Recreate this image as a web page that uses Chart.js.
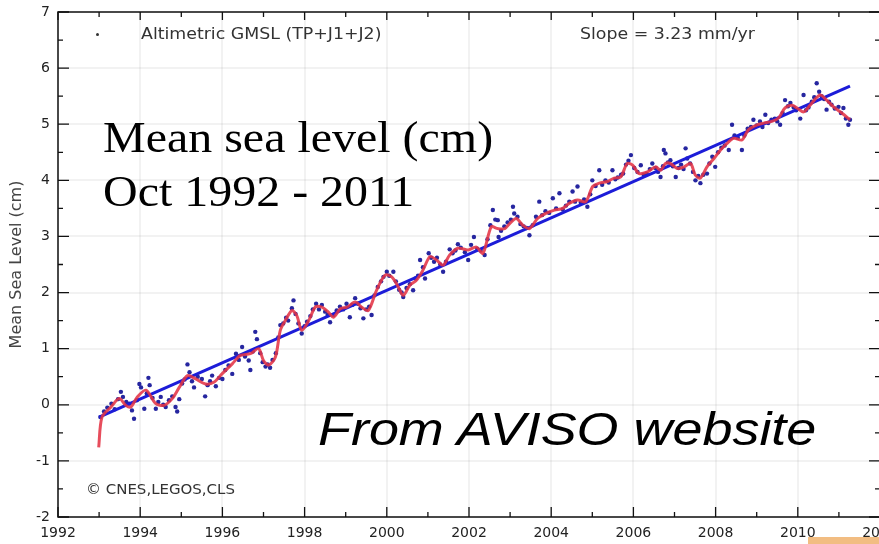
<!DOCTYPE html>
<html>
<head>
<meta charset="utf-8">
<script src="https://cdn.jsdelivr.net/npm/chart.js@4.4.1/dist/chart.umd.min.js"></script>
<style>
  html, body { margin: 0; padding: 0; background: #fff; overflow: hidden; width: 879px; height: 544px; }
  #wrap { position: relative; width: 884px; height: 544px; }
  canvas { position: absolute; left: 0; top: 0; }
  .t { position: absolute; white-space: nowrap; line-height: 1; transform-origin: 0 0; }
  .small { font-family: "DejaVu Sans", sans-serif; font-size: 16px; color: #333; transform: scaleX(1.085); }
  .serif { font-family: "Liberation Serif", "Times New Roman", serif; font-size: 44px; color: #000; transform: scaleX(1.09); }
  .ital { font-family: "Liberation Sans", Arial, sans-serif; font-style: italic; font-size: 47px; color: #000; transform: scaleX(1.147); }
  .dot { position: absolute; width: 3px; height: 3px; border-radius: 50%; background: #333; }
  .blob { position: absolute; left: 808px; top: 537px; width: 71px; height: 7px; background: #f2bd82; }
</style>
</head>
<body>
<div id="wrap">
  <canvas id="c" width="884" height="544"></canvas>
  <div class="dot" style="left:96px; top:33px;"></div>
  <div class="t small" style="left:141px; top:26px;">Altimetric GMSL (TP+J1+J2)</div>
  <div class="t small" style="left:580px; top:26px;">Slope = 3.23 mm/yr</div>
  <div class="t serif" style="left:103px; top:116px;">Mean sea level (cm)</div>
  <div class="t serif" style="left:103px; top:170px;">Oct 1992 - 2011</div>
  <div class="t ital" style="left:318px; top:405px;">From AVISO website</div>
  <div class="t small" style="left:86px; top:482px; font-size:14px; transform:scaleX(1.07);">© CNES,LEGOS,CLS</div>
  <div class="blob"></div>
</div>
<script>
// ---- data ----
const xTickYears = [1992, 1994, 1996, 1998, 2000, 2002, 2004, 2006, 2008, 2010, 2012];
const yTickValues = [-2, -1, 0, 1, 2, 3, 4, 5, 6, 7];

// linear trend (slope 3.23 mm/yr)
const trendYears  = [1993.0, 2011.27];
const trendValues = [-0.22, 5.68];

// smoothed (red) curve
const smoothYears = [1992.99,1993.07,1993.29,1993.49,1993.65,1993.77,1993.93,1994.14,1994.38,1994.58,1994.78,1994.95,
  1995.15,1995.35,1995.59,1995.79,1995.99,1996.24,1996.44,1996.68,1996.88,1997.00,1997.13,1997.29,1997.41,1997.53,
  1997.69,1997.81,1997.93,1998.10,1998.26,1998.42,1998.58,1998.70,1998.87,1999.03,1999.23,1999.39,1999.55,1999.75,
  1999.96,2000.12,2000.28,2000.40,2000.56,2000.72,2000.88,2001.05,2001.21,2001.37,2001.53,2001.73,2001.98,2002.18,
  2002.34,2002.54,2002.70,2002.87,2002.99,2003.15,2003.31,2003.47,2003.67,2003.87,2004.08,2004.28,2004.44,2004.64,
  2004.84,2005.01,2005.17,2005.37,2005.53,2005.69,2005.85,2005.98,2006.14,2006.34,2006.54,2006.66,2006.78,2006.90,
  2007.07,2007.23,2007.39,2007.51,2007.63,2007.79,2007.96,2008.12,2008.28,2008.44,2008.64,2008.80,2009.01,2009.17,
  2009.37,2009.53,2009.69,2009.86,2009.98,2010.14,2010.30,2010.54,2010.70,2010.87,2011.07,2011.27];
const smoothValues = [-0.76,-0.22,-0.04,0.11,-0.01,-0.04,0.14,0.26,0.02,-0.01,0.11,0.31,
  0.52,0.46,0.37,0.40,0.55,0.73,0.88,0.91,1.00,0.79,0.71,0.85,1.33,1.50,
  1.68,1.59,1.33,1.50,1.74,1.74,1.65,1.56,1.71,1.74,1.83,1.74,1.68,2.04,
  2.31,2.28,2.10,1.95,2.13,2.22,2.40,2.64,2.58,2.49,2.67,2.79,2.76,2.81,
  2.70,3.17,3.14,3.14,3.23,3.32,3.20,3.14,3.32,3.41,3.47,3.50,3.59,3.65,
  3.62,3.89,3.95,3.98,4.04,4.06,4.30,4.27,4.12,4.15,4.24,4.18,4.30,4.30,
  4.21,4.24,4.30,4.09,4.04,4.24,4.39,4.54,4.66,4.75,4.72,4.90,4.99,5.02,
  5.05,5.11,5.29,5.34,5.29,5.22,5.34,5.52,5.43,5.31,5.20,5.08];

// altimetric GMSL measurements (blue dots)
const dotYears = [1993.03,1993.12,1993.20,1993.30,1993.38,1993.46,1993.53,1993.58,1993.66,1993.73,1993.80,1993.85,1993.92,1993.98,
  1994.02,1994.10,1994.16,1994.20,1994.23,1994.30,1994.38,1994.44,1994.50,1994.56,1994.62,1994.70,1994.78,1994.86,1994.90,1994.95,
  1995.02,1995.08,1995.15,1995.20,1995.26,1995.31,1995.40,1995.50,1995.58,1995.64,1995.70,1995.75,1995.84,1995.92,
  1996.00,1996.07,1996.15,1996.24,1996.33,1996.40,1996.48,1996.55,1996.64,1996.68,1996.74,1996.80,1996.84,1996.92,1996.98,
  1997.05,1997.10,1997.16,1997.22,1997.30,1997.36,1997.41,1997.48,1997.55,1997.60,1997.69,1997.73,1997.78,1997.85,1997.93,
  1998.00,1998.06,1998.14,1998.20,1998.28,1998.35,1998.42,1998.50,1998.56,1998.62,1998.70,1998.78,1998.86,1998.94,
  1999.02,1999.10,1999.16,1999.23,1999.30,1999.36,1999.43,1999.50,1999.57,1999.63,1999.70,1999.78,1999.86,1999.92,
  2000.00,2000.06,2000.16,2000.22,2000.30,2000.36,2000.40,2000.48,2000.56,2000.64,2000.70,2000.76,2000.81,2000.88,2000.93,
  2001.02,2001.08,2001.15,2001.22,2001.30,2001.37,2001.44,2001.53,2001.60,2001.67,2001.73,2001.80,2001.90,2001.98,
  2002.05,2002.12,2002.20,2002.28,2002.38,2002.45,2002.52,2002.58,2002.64,2002.70,2002.72,2002.78,2002.86,2002.94,
  2003.02,2003.07,2003.10,2003.18,2003.25,2003.33,2003.40,2003.47,2003.55,2003.63,2003.71,2003.78,2003.86,2003.95,
  2004.04,2004.12,2004.20,2004.28,2004.36,2004.44,2004.52,2004.58,2004.64,2004.72,2004.80,2004.88,2004.95,
  2005.00,2005.08,2005.17,2005.24,2005.32,2005.40,2005.49,2005.56,2005.62,2005.70,2005.75,2005.82,2005.88,2005.94,
  2006.02,2006.10,2006.18,2006.25,2006.32,2006.40,2006.46,2006.54,2006.60,2006.66,2006.72,2006.74,2006.78,2006.84,2006.90,2006.96,
  2007.03,2007.10,2007.16,2007.22,2007.27,2007.31,2007.38,2007.45,2007.51,2007.58,2007.63,2007.70,2007.79,2007.85,2007.92,2007.99,
  2008.06,2008.14,2008.22,2008.32,2008.40,2008.46,2008.54,2008.64,2008.70,2008.78,2008.86,2008.92,
  2009.00,2009.08,2009.14,2009.21,2009.28,2009.36,2009.44,2009.50,2009.57,2009.63,2009.69,2009.76,2009.82,2009.90,2009.96,
  2010.06,2010.14,2010.20,2010.26,2010.34,2010.40,2010.46,2010.52,2010.58,2010.64,2010.70,2010.76,2010.82,2010.90,2010.99,
  2011.05,2011.11,2011.17,2011.23,2011.27];
const dotValues = [-0.22,-0.12,-0.05,0.02,-0.08,0.10,0.23,0.14,0.05,0.02,-0.10,-0.25,0.08,0.37,
  0.31,-0.07,0.20,0.48,0.35,0.12,-0.07,0.05,0.14,0.00,-0.04,0.08,0.15,-0.04,-0.12,0.10,
  0.38,0.45,0.72,0.58,0.42,0.31,0.50,0.46,0.15,0.35,0.42,0.52,0.33,0.48,
  0.46,0.62,0.70,0.55,0.91,0.80,1.03,0.86,0.79,0.62,0.95,1.30,1.17,0.92,0.76,
  0.68,0.72,0.66,0.80,0.92,1.20,1.42,1.45,1.55,1.50,1.72,1.86,1.62,1.45,1.27,
  1.40,1.48,1.58,1.70,1.80,1.70,1.78,1.66,1.60,1.47,1.60,1.68,1.75,1.70,
  1.80,1.56,1.78,1.90,1.80,1.72,1.54,1.70,1.75,1.60,1.95,2.10,2.20,2.28,
  2.37,2.30,2.37,2.20,2.05,2.00,1.92,2.08,2.15,2.04,2.25,2.30,2.58,2.45,2.25,
  2.70,2.62,2.55,2.62,2.50,2.37,2.55,2.77,2.70,2.75,2.86,2.80,2.72,2.58,
  2.85,2.99,2.78,2.75,2.67,2.95,3.20,3.47,3.30,3.29,2.99,3.10,3.18,3.25,
  3.30,3.53,3.41,3.35,3.22,3.18,3.15,3.02,3.20,3.35,3.62,3.38,3.45,3.42,
  3.68,3.50,3.77,3.48,3.55,3.62,3.80,3.62,3.89,3.60,3.66,3.53,3.75,
  4.00,3.90,4.18,3.92,4.00,3.96,4.18,4.02,4.05,4.10,4.12,4.28,4.35,4.45,
  4.22,4.15,4.27,4.10,4.12,4.20,4.30,4.22,4.15,4.06,4.25,4.54,4.48,4.32,4.36,4.25,
  4.06,4.22,4.28,4.20,4.57,4.39,4.30,4.15,4.00,4.08,3.95,4.10,4.12,4.30,4.42,4.24,
  4.50,4.58,4.62,4.54,4.99,4.80,4.76,4.54,4.80,4.92,4.95,5.08,
  4.98,5.05,4.95,5.17,5.02,5.08,5.10,5.05,4.99,5.20,5.43,5.32,5.38,5.30,5.25,
  5.10,5.52,5.25,5.30,5.40,5.48,5.73,5.58,5.50,5.45,5.26,5.40,5.35,5.28,5.31,
  5.20,5.29,5.10,4.99,5.08];

const pts = (xs, ys) => xs.map((x, i) => ({ x: x, y: ys[i] }));

// frame + inward major/minor ticks, positioned through the chart's scales
const framePlugin = {
  id: 'frameTicks',
  afterDatasetsDraw(chart) {
    const { ctx, chartArea: a, scales } = chart;
    const xs = scales.x, ys = scales.y;
    ctx.save();
    ctx.strokeStyle = '#111';
    ctx.lineWidth = 1.5;
    ctx.strokeRect(a.left, a.top, a.right - a.left, a.bottom - a.top);
    ctx.lineWidth = 1.3;
    ctx.beginPath();
    for (let yr = xs.min; yr <= xs.max; yr += 1) {
      const px = xs.getPixelForValue(yr);
      const len = (yr % 2 === 0) ? 10 : 5;
      ctx.moveTo(px, a.bottom); ctx.lineTo(px, a.bottom - len);
      ctx.moveTo(px, a.top); ctx.lineTo(px, a.top + (yr % 2 === 0 ? 8 : 5));
    }
    for (let v = ys.min; v <= ys.max + 1e-9; v += 0.5) {
      const py = ys.getPixelForValue(v);
      const len = (Math.abs(v - Math.round(v)) < 1e-6) ? 11 : 5;
      ctx.moveTo(a.left, py); ctx.lineTo(a.left + len, py);
      ctx.moveTo(a.right, py); ctx.lineTo(a.right - len, py);
    }
    ctx.stroke();
    ctx.restore();
  }
};

const tickFont = { family: 'DejaVu Sans', size: 14 };

new Chart(document.getElementById('c'), {
  type: 'scatter',
  data: {
    datasets: [
      { type: 'line', label: 'smoothed', data: pts(smoothYears, smoothValues),
        borderColor: 'rgba(228,52,70,0.88)', borderWidth: 3, pointRadius: 0, tension: 0.3, fill: false },
      { type: 'line', label: 'trend', data: pts(trendYears, trendValues),
        borderColor: '#1c1cd8', borderWidth: 3, pointRadius: 0, fill: false },
      { label: 'Altimetric GMSL (TP+J1+J2)', data: pts(dotYears, dotValues),
        backgroundColor: '#2626a0', borderWidth: 0, pointRadius: 2.2, showLine: false }
    ]
  },
  options: {
    responsive: false,
    animation: false,
    layout: { padding: { top: 12, right: 0, bottom: 0, left: 0 } },
    plugins: { legend: { display: false }, tooltip: { enabled: false } },
    scales: {
      x: {
        type: 'linear', min: xTickYears[0], max: xTickYears[xTickYears.length - 1],
        afterBuildTicks(s) { s.ticks = xTickYears.map(v => ({ value: v })); },
        ticks: { padding: 8, color: '#222', font: tickFont, maxRotation: 0, autoSkip: false,
                 callback: v => String(v) },
        grid: { color: 'rgba(0,0,0,0.05)', lineWidth: 2, drawTicks: false },
        border: { display: false },
        afterFit(s) { s.height = 27; s.paddingLeft = 0; s.paddingRight = 0; }
      },
      y: {
        min: yTickValues[0], max: yTickValues[yTickValues.length - 1],
        afterBuildTicks(s) { s.ticks = yTickValues.map(v => ({ value: v })); },
        ticks: { padding: 8, color: '#222', font: tickFont, callback: v => String(v) },
        grid: { color: 'rgba(0,0,0,0.05)', lineWidth: 2, drawTicks: false },
        border: { display: false },
        title: { display: true, text: 'Mean Sea Level (cm)', color: '#444',
                 font: { family: 'DejaVu Sans', size: 16 }, padding: { top: 7, bottom: 0 } },
        afterFit(s) { s.width = 58; s.paddingTop = 0; s.paddingBottom = 0; }
      }
    }
  },
  plugins: [framePlugin]
});
</script>
</body>
</html>
